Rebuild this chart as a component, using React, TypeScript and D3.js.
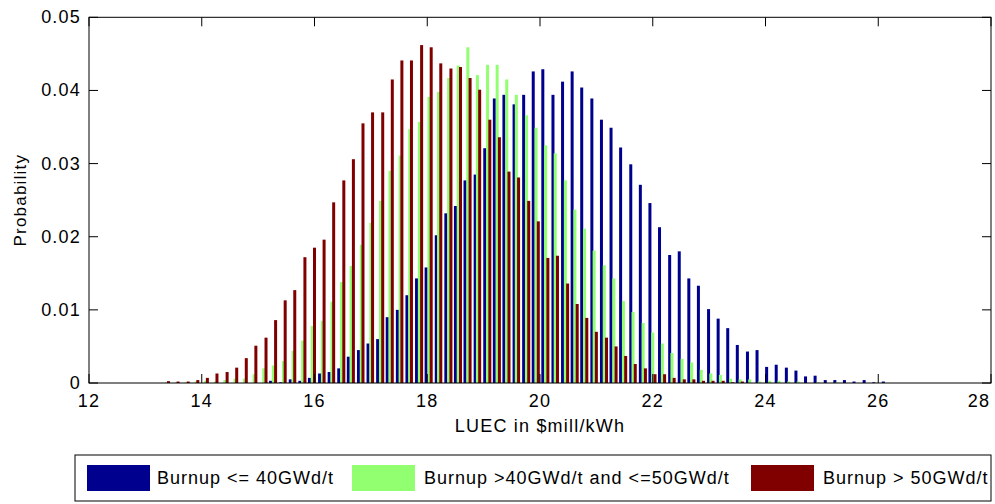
import React from "react";
import * as d3 from "d3";

const xTicks = [12, 14, 16, 18, 20, 22, 24, 26, 28];
const yTicks = [0, 0.01, 0.02, 0.03, 0.04, 0.05];
const yTickLabels = ["0", "0.01", "0.02", "0.03", "0.04", "0.05"];

const seriesNames = ["Burnup <= 40GWd/t", "Burnup >40GWd/t and <=50GWd/t", "Burnup > 50GWd/t"];
const seriesColors = ["#00008F", "#92FF70", "#800000"];

const blueX = [15.22, 15.40, 15.57, 15.74, 15.91, 16.09, 16.26, 16.43, 16.60, 16.78, 16.95, 17.12, 17.29, 17.47, 17.64, 17.81, 17.98, 18.16, 18.33, 18.50, 18.67, 18.85, 19.02, 19.19, 19.36, 19.54, 19.71, 19.88, 20.05, 20.23, 20.40, 20.57, 20.74, 20.92, 21.09, 21.26, 21.43, 21.61, 21.78, 21.95, 22.12, 22.30, 22.47, 22.64, 22.81, 22.99, 23.16, 23.33, 23.50, 23.68, 23.85, 24.02, 24.19, 24.37, 24.54, 24.71, 24.88, 25.06, 25.23, 25.40, 25.57, 25.75, 25.92, 26.09];
const blueY = [0.0003, 0.0001, 0.0005, 0.0003, 0.0007, 0.0013, 0.0015, 0.0020, 0.0036, 0.0045, 0.0054, 0.0060, 0.0090, 0.0100, 0.0120, 0.0143, 0.0158, 0.0202, 0.0232, 0.0242, 0.0277, 0.0285, 0.0321, 0.0389, 0.0394, 0.0381, 0.0394, 0.0426, 0.0429, 0.0394, 0.0412, 0.0426, 0.0404, 0.0389, 0.0360, 0.0349, 0.0322, 0.0299, 0.0271, 0.0246, 0.0213, 0.0175, 0.0180, 0.0143, 0.0133, 0.0101, 0.0088, 0.0075, 0.0052, 0.0043, 0.0045, 0.0022, 0.0025, 0.0021, 0.0017, 0.0009, 0.0010, 0.0004, 0.0004, 0.0004, 0.0002, 0.0004, 0.0001, 0.0002];

const greenX = [13.38, 13.55, 13.72, 13.90, 14.07, 14.24, 14.41, 14.59, 14.76, 14.93, 15.10, 15.27, 15.45, 15.62, 15.79, 15.96, 16.14, 16.31, 16.48, 16.65, 16.83, 17.00, 17.17, 17.34, 17.52, 17.69, 17.86, 18.03, 18.20, 18.38, 18.55, 18.72, 18.89, 19.07, 19.24, 19.41, 19.58, 19.76, 19.93, 20.10, 20.27, 20.45, 20.62, 20.79, 20.96, 21.14, 21.31, 21.48, 21.65, 21.83, 22.00, 22.17, 22.34, 22.52, 22.69, 22.86, 23.03, 23.20, 23.38, 23.55, 23.72, 23.89, 24.07, 24.24, 24.41, 24.58, 24.76, 24.93, 25.10, 25.27];
const greenY = [0.0001, 0.0001, 0.0001, 0.0002, 0.0003, 0.0002, 0.0004, 0.0006, 0.0006, 0.0012, 0.0020, 0.0024, 0.0030, 0.0044, 0.0058, 0.0078, 0.0085, 0.0111, 0.0138, 0.0160, 0.0189, 0.0219, 0.0249, 0.0290, 0.0311, 0.0347, 0.0357, 0.0391, 0.0398, 0.0417, 0.0434, 0.0459, 0.0421, 0.0435, 0.0435, 0.0415, 0.0394, 0.0366, 0.0349, 0.0325, 0.0314, 0.0277, 0.0237, 0.0211, 0.0181, 0.0161, 0.0143, 0.0112, 0.0097, 0.0082, 0.0069, 0.0054, 0.0041, 0.0033, 0.0028, 0.0018, 0.0013, 0.0011, 0.0006, 0.0005, 0.0005, 0.0002, 0.0003, 0.0003, 0.0002, 0.0002, 0.0000, 0.0001, 0.0000, 0.0001];

const redX = [13.41, 13.58, 13.76, 13.93, 14.10, 14.27, 14.45, 14.62, 14.79, 14.96, 15.14, 15.31, 15.48, 15.65, 15.83, 16.00, 16.17, 16.34, 16.52, 16.69, 16.86, 17.03, 17.21, 17.38, 17.55, 17.72, 17.90, 18.07, 18.24, 18.42, 18.59, 18.76, 18.93, 19.11, 19.28, 19.45, 19.62, 19.80, 19.97, 20.14, 20.31, 20.49, 20.66, 20.83, 21.00, 21.18, 21.35, 21.52, 21.69, 21.87, 22.04, 22.21, 22.38, 22.56, 22.73, 22.90, 23.07, 23.25, 23.42, 23.59];
const redY = [0.00025, 0.0002, 0.0002, 0.0004, 0.0007, 0.0013, 0.0015, 0.0021, 0.0034, 0.0051, 0.0062, 0.0086, 0.0113, 0.0127, 0.0172, 0.0185, 0.0196, 0.0247, 0.0277, 0.0306, 0.0355, 0.0370, 0.0370, 0.0415, 0.0441, 0.0441, 0.0462, 0.0459, 0.0437, 0.0430, 0.0432, 0.0417, 0.0401, 0.0360, 0.0336, 0.0289, 0.0281, 0.0249, 0.0221, 0.0171, 0.0174, 0.0136, 0.0108, 0.0089, 0.0070, 0.0062, 0.0050, 0.0037, 0.0026, 0.0020, 0.0012, 0.0012, 0.0007, 0.0005, 0.0005, 0.0003, 0.0003, 0.0003, 0.0001, 0.0002];

const W = 995;
const H = 504;
const L = 89, R = 991, T = 17.3, B = 383;

export default function App() {
  const x = d3.scaleLinear().domain([12, 28]).range([L, R]);
  const y = d3.scaleLinear().domain([0, 0.05]).range([B, T]);
  const series = [
    { xs: blueX, ys: blueY, color: seriesColors[0] },
    { xs: greenX, ys: greenY, color: seriesColors[1] },
    { xs: redX, ys: redY, color: seriesColors[2] },
  ];
  const barW = 3;
  const font = "'Liberation Sans', Arial, Helvetica, sans-serif";
  const ls = 1.2;
  const fs = 18;
  const tickLen = 9;
  const legend = [
    { sx: 87, tx: 157 },
    { sx: 352, tx: 424 },
    { sx: 751, tx: 823 },
  ];
  return (
    <svg width={W} height={H} style={{ position: "absolute", left: 0, top: 0, background: "#fff" }}>
      <rect x={0} y={0} width={W} height={H} fill="#fff" />
      {series.map((s, si) => (
        <g key={si}>
          {s.ys.map((v, i) => (
            <rect key={i} x={x(s.xs[i]) - barW / 2} y={y(v)} width={barW} height={Math.max(0, B - y(v))} fill={s.color} />
          ))}
        </g>
      ))}
      <rect x={L} y={T} width={R - L} height={B - T} fill="none" stroke="#000" strokeWidth={1} />
      {xTicks.map((t) => (
        <g key={t}>
          <line x1={x(t)} x2={x(t)} y1={B} y2={B - tickLen} stroke="#000" />
          <line x1={x(t)} x2={x(t)} y1={T} y2={T + tickLen} stroke="#000" />
          <text x={Math.min(x(t), 979)} y={407} textAnchor="middle" fontFamily={font} fontSize={fs} letterSpacing={ls}>{t}</text>
        </g>
      ))}
      {yTicks.map((t, i) => (
        <g key={t}>
          <line x1={L} x2={L + tickLen} y1={y(t)} y2={y(t)} stroke="#000" />
          <line x1={R} x2={R - tickLen} y1={y(t)} y2={y(t)} stroke="#000" />
          <text x={81} y={y(t) + 6} textAnchor="end" fontFamily={font} fontSize={fs} letterSpacing={ls}>{yTickLabels[i]}</text>
        </g>
      ))}
      <text x={(L + R) / 2} y={432} textAnchor="middle" fontFamily={font} fontSize={fs} letterSpacing={ls}>LUEC in $mill/kWh</text>
      <text transform={`translate(26,${(T + B) / 2}) rotate(-90)`} textAnchor="middle" fontFamily={font} fontSize={17} letterSpacing={ls}>Probability</text>
      <rect x={75} y={455} width={916} height={46} fill="#fff" stroke="#000" />
      {legend.map((l, i) => (
        <g key={i}>
          <rect x={l.sx} y={465} width={63} height={26} fill={seriesColors[i]} />
          <text x={l.tx} y={484} fontFamily={font} fontSize={fs} letterSpacing={1.0}>{seriesNames[i]}</text>
        </g>
      ))}
    </svg>
  );
}
